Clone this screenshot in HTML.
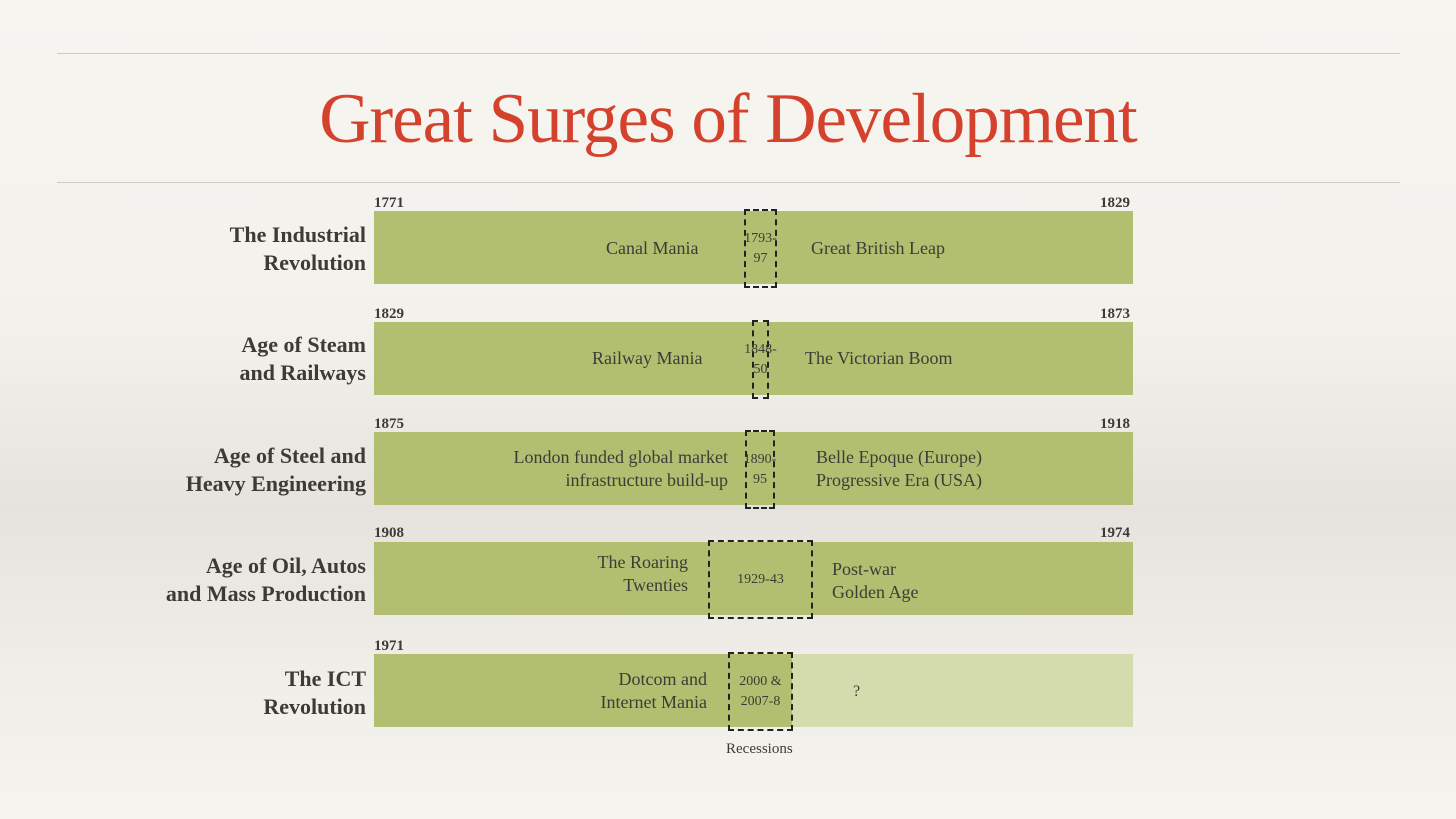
<!DOCTYPE html>
<html><head><meta charset="utf-8"><style>
body{margin:0;width:1456px;height:819px;overflow:hidden;font-family:"Liberation Serif",serif;
background:linear-gradient(#f7f5f0 0%,#f3f1ec 40%,#e6e3de 62%,#efede8 80%,#f6f4ef 100%);position:relative;color:#3e3b36}
.rule{position:absolute;left:57px;width:1343px;height:1px;background:#cfcbc4}
h1{position:absolute;top:79px;left:0;width:1456px;text-align:center;margin:0;font-weight:normal;font-size:71px;color:#d4412d;letter-spacing:-1px}
.bar{position:absolute;left:374px;width:759px;height:73px;background:#b2bf70}
.yr{position:absolute;font-weight:bold;font-size:15px;color:#3b3a37}
.lab{position:absolute;right:1090px;text-align:right;font-weight:bold;font-size:22px;line-height:28px;color:#3e3b36}
.t{position:absolute;font-size:18px;line-height:23px;color:#3e3b36}
.box{position:absolute;border:2px dashed #222;box-sizing:border-box;display:flex;align-items:center;justify-content:center;text-align:center;font-size:14px;line-height:20px}
</style></head><body>
<div class="rule" style="top:53px"></div>
<h1>Great Surges of Development</h1>
<div class="rule" style="top:182px"></div>

<div class="lab" style="top:221px">The Industrial<br>Revolution</div>
<div class="yr" style="left:374px;top:195px">1771</div>
<div class="yr" style="left:1100px;top:195px">1829</div>
<div class="bar" style="top:211px"></div>
<div class="t" style="left:606px;top:237px">Canal Mania</div>
<div class="t" style="left:811px;top:237px">Great British Leap</div>
<div class="box" style="left:744px;top:209px;width:33px;height:79px">1793-<br>97</div>

<div class="lab" style="top:331px">Age of Steam<br>and Railways</div>
<div class="yr" style="left:374px;top:306px">1829</div>
<div class="yr" style="left:1100px;top:306px">1873</div>
<div class="bar" style="top:322px"></div>
<div class="t" style="left:592px;top:347px">Railway Mania</div>
<div class="t" style="left:805px;top:347px">The Victorian Boom</div>
<div class="box" style="left:752px;top:320px;width:17px;height:79px;overflow:visible;white-space:nowrap">1848-<br>50</div>

<div class="lab" style="top:442px">Age of Steel and<br>Heavy Engineering</div>
<div class="yr" style="left:374px;top:416px">1875</div>
<div class="yr" style="left:1100px;top:416px">1918</div>
<div class="bar" style="top:432px"></div>
<div class="t" style="right:728px;top:446px;text-align:right">London funded global market<br>infrastructure build-up</div>
<div class="t" style="left:816px;top:446px">Belle Epoque (Europe)<br>Progressive Era (USA)</div>
<div class="box" style="left:745px;top:430px;width:30px;height:79px">1890-<br>95</div>

<div class="lab" style="top:552px">Age of Oil, Autos<br>and Mass Production</div>
<div class="yr" style="left:374px;top:525px">1908</div>
<div class="yr" style="left:1100px;top:525px">1974</div>
<div class="bar" style="top:542px"></div>
<div class="t" style="right:768px;top:551px;text-align:right">The Roaring<br>Twenties</div>
<div class="t" style="left:832px;top:558px">Post-war<br>Golden Age</div>
<div class="box" style="left:708px;top:540px;width:105px;height:79px">1929-43</div>

<div class="lab" style="top:665px">The ICT<br>Revolution</div>
<div class="yr" style="left:374px;top:638px">1971</div>
<div class="bar" style="top:654px;width:418px"></div>
<div class="bar" style="top:654px;left:792px;width:341px;background:#d4dcae"></div>
<div class="t" style="right:749px;top:668px;text-align:right">Dotcom and<br>Internet Mania</div>
<div class="t" style="left:853px;top:680px;font-size:16px">?</div>
<div class="box" style="left:728px;top:652px;width:65px;height:79px">2000 &amp;<br>2007-8</div>
<div class="t" style="left:726px;top:738px;font-size:15px">Recessions</div>
</body></html>
